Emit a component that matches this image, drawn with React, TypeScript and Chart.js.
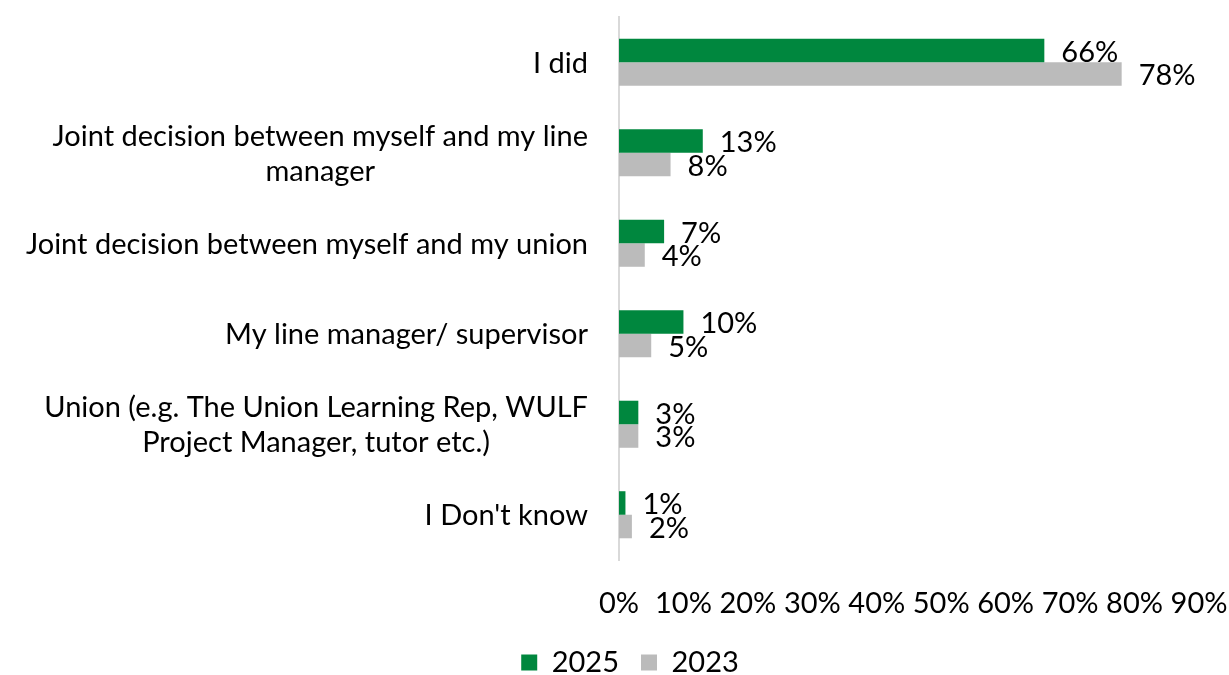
import React, { useEffect, useRef } from "react";
import { Chart, registerables } from "chart.js";

Chart.register(...registerables);

const categories: string[][] = [
  ["I did"],
  ["Joint decision between myself and my line", "manager"],
  ["Joint decision between myself and my union"],
  ["My line manager/ supervisor"],
  ["Union (e.g. The Union Learning Rep, WULF", "Project Manager, tutor etc.)"],
  ["I Don't know"],
];
const values2025 = [66, 13, 7, 10, 3, 1];
const values2023 = [78, 8, 4, 5, 3, 2];
const xTicks = [0, 10, 20, 30, 40, 50, 60, 70, 80, 90];

const FONT = "Lato, 'Open Sans', sans-serif";
const FS = 29;

const labelPlugin = {
  id: "customLabels",
  afterDatasetsDraw(chart: any) {
    const ctx = chart.ctx;
    const yScale = chart.scales.y;
    ctx.save();
    ctx.font = `${FS}px ${FONT}`;
    ctx.fillStyle = "#000";
    ctx.textAlign = "center";
    ctx.textBaseline = "middle";
    const right = yScale.right - 31;
    categories.forEach((lines, i) => {
      const yc = yScale.getPixelForTick(i);
      const widths = lines.map((l) => ctx.measureText(l).width);
      const maxW = Math.max(...widths);
      const cx = right - maxW / 2;
      const lh = 35;
      lines.forEach((l, j) => {
        const y = yc + (j - (lines.length - 1) / 2) * lh + 1;
        ctx.fillText(l, cx, y);
      });
    });
    ctx.textAlign = "left";
    chart.data.datasets.forEach((ds: any, di: number) => {
      const meta = chart.getDatasetMeta(di);
      meta.data.forEach((bar: any, i: number) => {
        ctx.fillText(ds.data[i] + "%", bar.x + 17, bar.y + 2);
      });
    });
    ctx.restore();
  },
};

export default function App() {
  const ref = useRef<HTMLCanvasElement>(null);
  useEffect(() => {
    if (!ref.current) return;
    const chart = new Chart(ref.current, {
      type: "bar",
      data: {
        labels: categories.map((c) => c.join(" ")),
        datasets: [
          {
            label: "2025",
            data: values2025,
            backgroundColor: "#00873E",
            categoryPercentage: 0.52,
            barPercentage: 1,
          },
          {
            label: "2023",
            data: values2023,
            backgroundColor: "#BBBBBB",
            categoryPercentage: 0.52,
            barPercentage: 1,
          },
        ],
      },
      options: {
        indexAxis: "y",
        animation: false,
        responsive: true,
        maintainAspectRatio: false,
        layout: { padding: { top: 17, right: 30, bottom: -12, left: 61 } },
        scales: {
          x: {
            min: 0,
            max: 90,
            afterBuildTicks: (scale: any) => {
              scale.ticks = xTicks.map((v) => ({ value: v }));
            },
            afterFit: (scale: any) => {
              scale.paddingLeft = 0;
              scale.paddingRight = 0;
              scale.height = 66;
            },
            grid: { display: false, drawTicks: false },
            border: { display: false },
            ticks: {
              color: "#000",
              font: { family: FONT, size: FS },
              padding: 26,
              maxRotation: 0,
              autoSkip: false,
              callback: (v: any) => v + "%",
            },
          },
          y: {
            grid: { display: false, drawTicks: false },
            border: { display: true, color: "#D9D9D9", width: 2 },
            ticks: { display: false },
            afterFit: (scale: any) => {
              scale.width = 558;
            },
          },
        },
        plugins: {
          legend: {
            position: "bottom",
            labels: {
              color: "#000",
              font: { family: FONT, size: FS },
              boxWidth: 16,
              boxHeight: 16,
              padding: 22,
            },
          },
          tooltip: { enabled: false },
        },
      },
      plugins: [labelPlugin],
    });
    return () => chart.destroy();
  }, []);
  return (
    <div style={{ position: "fixed", left: 0, top: 0, width: 1229, height: 675 }}>
      <canvas ref={ref} />
    </div>
  );
}
